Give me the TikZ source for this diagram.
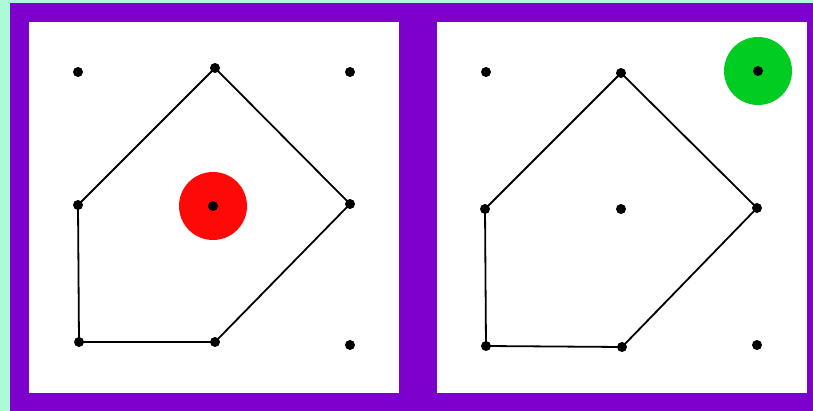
\documentclass[tikz,border=0pt]{standalone}
\usetikzlibrary{positioning}

\definecolor{mint}{RGB}{172,250,214}
\definecolor{frame}{RGB}{126,0,204}
\definecolor{hitred}{RGB}{255,8,8}
\definecolor{hitgreen}{RGB}{0,204,34}

\begin{document}
\begin{tikzpicture}[
    x=1pt, y=-1pt, line width=1.8pt,
    panel/.style={fill=white, draw=none},
    dot/.style={
      circle, fill=black, inner sep=0pt,
      minimum size=10pt},
    hit/.style={
      circle, inner sep=0pt, draw=none,
      minimum size=68pt},
]

% ---- background and frame ----
\fill[mint] (0,0) rectangle (813,411);
\fill[frame] (10,3) rectangle (813,411);
\fill[panel] (29,22) rectangle (399,393);
\fill[panel] (437,22) rectangle (807,393);

% ---- left panel ----
\node[hit, fill=hitred] (ra) at (213,206) {};
\node[dot] (a1) at (78,72)   {};
\node[dot] (a2) at (215,68)  {};
\node[dot] (a3) at (350,72)  {};
\node[dot] (a4) at (78,205)  {};
\node[dot] (a5) at (213,206) {};
\node[dot] (a6) at (350,204) {};
\node[dot] (a7) at (79,342)  {};
\node[dot] (a8) at (215,342) {};
\node[dot] (a9) at (350,345) {};

\draw (a2.center) -- (a6.center) -- (a8.center) -- (a7.center)
  -- (a4.center) -- (a2.center);

% ---- right panel ----
\node[hit, fill=hitgreen] (ga) at (758,71) {};
\node[dot] (b1) at (486,72)  {};
\node[dot] (b2) at (621,73)  {};
\node[dot] (b3) at (758,71)  {};
\node[dot] (b4) at (485,209) {};
\node[dot] (b5) at (621,209) {};
\node[dot] (b6) at (757,208) {};
\node[dot] (b7) at (486,346) {};
\node[dot] (b8) at (622,347) {};
\node[dot] (b9) at (757,345) {};

\draw (b2.center) -- (b6.center) -- (b8.center) -- (b7.center)
  -- (b4.center) -- (b2.center);

\end{tikzpicture}
\end{document}
